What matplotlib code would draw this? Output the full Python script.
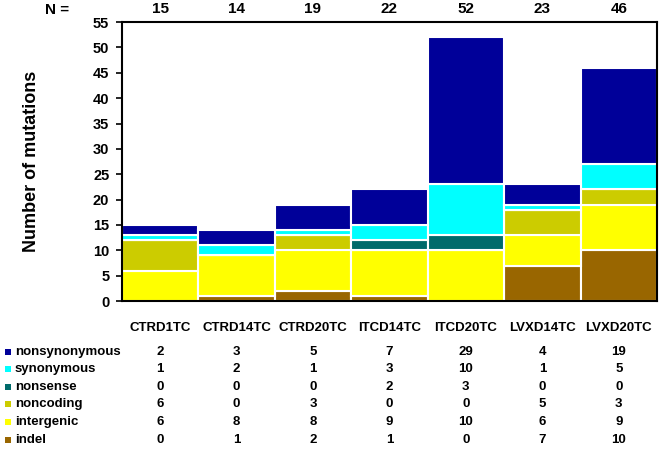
import numpy as np
import matplotlib.pyplot as plt
from matplotlib.patches import Rectangle
from matplotlib.transforms import blended_transform_factory

plt.rcParams['font.family'] = ['Liberation Sans', 'DejaVu Sans']
plt.rcParams['font.weight'] = 'bold'
plt.rcParams['axes.labelweight'] = 'bold'

samples = ['CTRD1TC', 'CTRD14TC', 'CTRD20TC', 'ITCD14TC', 'ITCD20TC', 'LVXD14TC', 'LVXD20TC']
# stacked bottom to top
indel = [0, 1, 2, 1, 0, 7, 10]
intergenic = [6, 8, 8, 9, 10, 6, 9]
noncoding = [6, 0, 3, 0, 0, 5, 3]
nonsense = [0, 0, 0, 2, 3, 0, 0]
synonymous = [1, 2, 1, 3, 10, 1, 5]
nonsynonymous = [2, 3, 5, 7, 29, 4, 19]

stack = [('indel', indel, '#996600'),
         ('intergenic', intergenic, '#ffff00'),
         ('noncoding', noncoding, '#cccc00'),
         ('nonsense', nonsense, '#006b6b'),
         ('synonymous', synonymous, '#00ffff'),
         ('nonsynonymous', nonsynonymous, '#000099')]

W, H = 662, 450
fig = plt.figure(figsize=(W / 100, H / 100), dpi=100)
ax = fig.add_axes([0.184, 0.331, 0.8085, 0.62])

x = np.arange(len(samples))
bottom = np.zeros(len(samples))
for name, vals, col in stack:
    ax.bar(x, vals, width=1.0, bottom=bottom, color=col, edgecolor='white', linewidth=1.5)
    bottom += np.array(vals)

ax.set_xlim(-0.5, len(samples) - 0.5)
ax.set_ylim(0, 55)
ax.set_yticks(range(0, 56, 5))
ax.tick_params(axis='y', labelsize=10.5, width=1.2, length=4, pad=5, direction='out')
ax.set_xticks(x)
ax.set_xticklabels(samples, fontsize=9.5, fontweight='bold')
for lab in ax.get_yticklabels():
    lab.set_fontweight('bold')
ax.tick_params(axis='x', length=0, pad=15)
for s in ax.spines.values():
    s.set_linewidth(1.5)
ax.set_ylabel('Number of mutations', fontsize=13, fontweight='bold', labelpad=38)

# N totals above the plot
totals = bottom.astype(int)
for xi, n in zip(x, totals):
    ax.text(xi, 1.045, str(n), transform=ax.get_xaxis_transform(), ha='center', va='center',
            fontsize=11, fontweight='bold')
fig.text(0.086, 0.978, 'N =', ha='center', va='center', fontsize=11, fontweight='bold')

# table below
tr = blended_transform_factory(ax.transData, fig.transFigure)
rows = stack[::-1]
row_y = [352, 369, 387, 404, 422, 440]
for (name, vals, col), py in zip(rows, row_y):
    yf = 1 - py / H
    fig.patches.append(Rectangle((5 / W, yf - 3 / H), 6 / W, 6 / H, transform=fig.transFigure,
                                 facecolor=col, edgecolor='none'))
    fig.text(15 / W, yf, name, ha='left', va='center', fontsize=9.5, fontweight='bold')
    for xi, v in zip(x, vals):
        fig.text(xi, yf, str(v), transform=tr, ha='center', va='center', fontsize=9.5,
                 fontweight='bold')

fig.savefig('out.png', dpi=100)
